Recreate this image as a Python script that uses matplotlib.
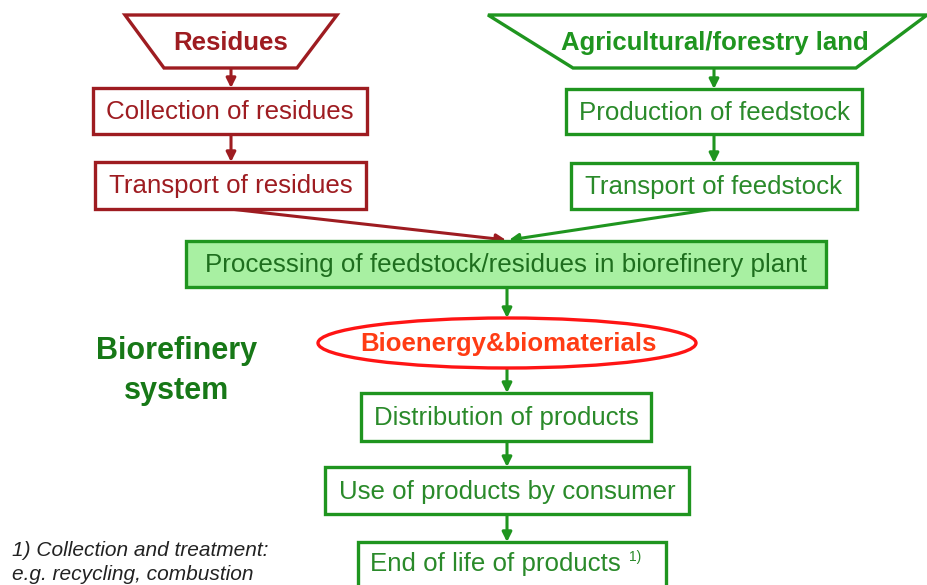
import matplotlib.pyplot as plt
from matplotlib.patches import Polygon, Rectangle, Ellipse, FancyArrowPatch

# ── textos del diagrama ──────────────────────────────────────────
fuentes = ["Residues", "Agricultural/forestry land"]
rama_residuos = ["Collection of residues", "Transport of residues"]
rama_cultivo = ["Production of feedstock", "Transport of feedstock"]
proceso = "Processing of feedstock/residues in biorefinery plant"
producto = "Bioenergy&biomaterials"
cadena = ["Distribution of products", "Use of products by consumer", "End of life of products"]
titulo = "Biorefinery\nsystem"
nota = ["1) Collection and treatment:", "e.g. recycling, combustion"]

ROJO = "#9E1C21"
VERDE = "#1F951F"
VERDE_TXT = "#2A8A2A"
VERDE_OSC = "#177817"
FONDO = "#A8F0A2"

# ── layout (px, y hacia abajo) ───────────────────────────────────
W, H = 928, 585
trap = {
    "Residues": [(125, 15), (337, 15), (297, 68), (164, 68)],
    "Agricultural/forestry land": [(488, 15), (927, 15), (856, 68), (573, 68)],
}
cajas_res = [(93, 88, 367, 134), (95, 162, 366, 209)]
cajas_cul = [(566, 89, 862, 134), (571, 163, 857, 209)]
caja_proc = (186, 241, 826, 287)
elipse = (507, 343, 378, 50)
cajas_cad = [(361, 393, 651, 441), (325, 467, 689, 514), (358, 542, 666, 600)]

plt.rcParams["font.family"] = ["Liberation Sans", "DejaVu Sans"]
fig = plt.figure(figsize=(W / 100, H / 100), dpi=100)
ax = fig.add_axes([0, 0, 1, 1])
ax.set_xlim(0, W)
ax.set_ylim(H, 0)
ax.axis("off")


def caja(b, color, txt, txtcolor, fill="white", fs=18.6):
    x0, y0, x1, y1 = b
    ax.add_patch(Rectangle((x0, y0), x1 - x0, y1 - y0, fc=fill, ec=color, lw=2.4, zorder=2))
    if txt:
        ax.text((x0 + x1) / 2, (y0 + min(y1, H)) / 2 + 1, txt, ha="center", va="center",
                fontsize=fs, color=txtcolor, zorder=3)


def flecha(p0, p1, color):
    ax.add_patch(FancyArrowPatch(p0, p1, arrowstyle="-|>", mutation_scale=14,
                                 lw=2.2, color=color, shrinkA=0, shrinkB=0, zorder=1))


# fuentes (trapecios)
for nombre, color in zip(fuentes, [ROJO, VERDE]):
    pts = trap[nombre]
    ax.add_patch(Polygon(pts, closed=True, fc="white", ec=color, lw=2.4, zorder=2))
    cx = (pts[2][0] + pts[3][0]) / 2
    ax.text(cx, 43, nombre, ha="center", va="center", fontsize=18.5,
            fontweight="bold", color=color, zorder=3)

# rama residuos
for b, t in zip(cajas_res, rama_residuos):
    caja(b, ROJO, t, ROJO)
flecha((231, 68), (231, 88), ROJO)
flecha((231, 134), (231, 162), ROJO)

# rama cultivo
for b, t in zip(cajas_cul, rama_cultivo):
    caja(b, VERDE, t, VERDE_TXT)
flecha((714, 68), (714, 89), VERDE)
flecha((714, 134), (714, 163), VERDE)

# convergencia
flecha((230, 209), (506, 240), ROJO)
flecha((714, 209), (509, 240), VERDE)

caja(caja_proc, VERDE, proceso, "#1E6E1E", fill=FONDO, fs=18.7)
flecha((507, 287), (507, 318), VERDE)

cx, cy, ew, eh = elipse
ax.add_patch(Ellipse((cx, cy), ew, eh, fc="white", ec="#FF1414", lw=2.4, zorder=2))
ax.text(cx + 1, cy + 1, producto, ha="center", va="center", fontsize=18.5,
        fontweight="bold", color="#FF3C14", zorder=3)

ax.text(177, 371, titulo, ha="center", va="center", fontsize=22, fontweight="bold",
        color=VERDE_OSC, linespacing=1.4)

# cadena de productos
flecha((507, 368), (507, 393), VERDE)
flecha((507, 441), (507, 467), VERDE)
flecha((507, 514), (507, 542), VERDE)
for b, t in zip(cajas_cad[:2], cadena[:2]):
    caja(b, VERDE, t, VERDE_TXT)
caja(cajas_cad[2], VERDE, None, VERDE_TXT)
ax.text(495, 564, cadena[2], ha="center", va="center", fontsize=18.6, color=VERDE_TXT, zorder=3)
ax.text(629, 557, "1)", ha="left", va="center", fontsize=10, color=VERDE_TXT, zorder=3)

# nota
ax.text(12, 550, nota[0], ha="left", va="center", fontsize=15, style="italic", color="#222222")
ax.text(12, 575, nota[1], ha="left", va="center", fontsize=15, style="italic", color="#222222")

fig.savefig("out.png", dpi=100)
